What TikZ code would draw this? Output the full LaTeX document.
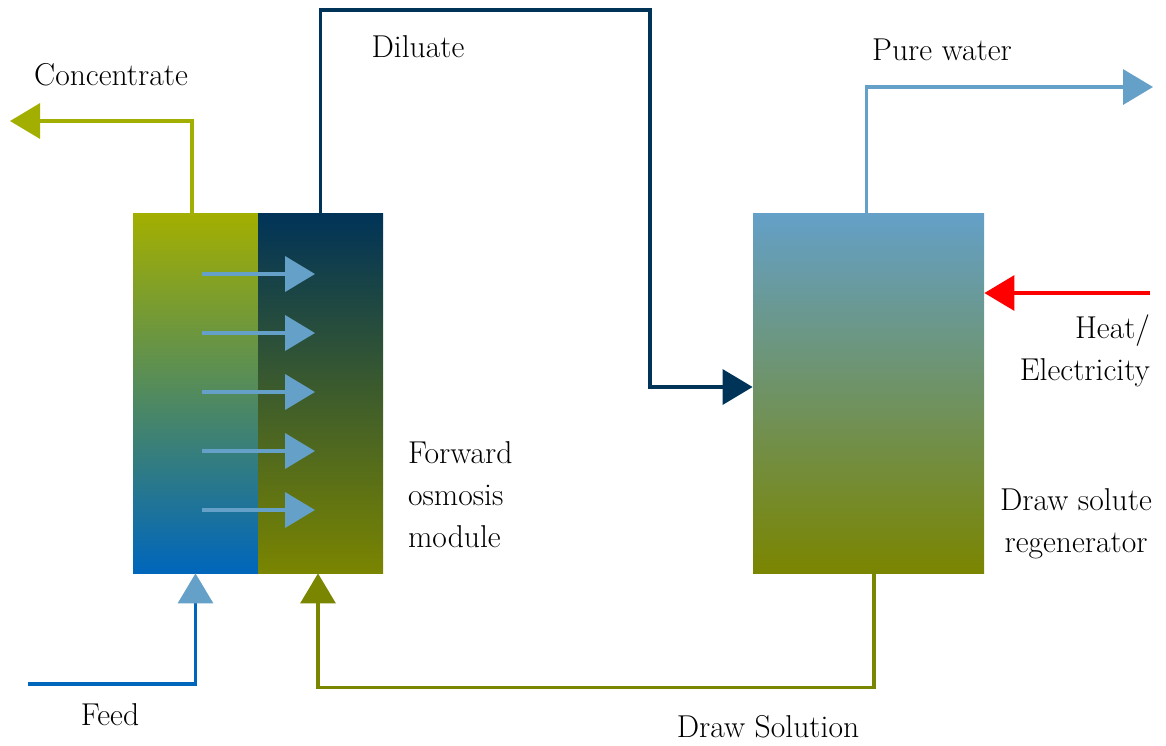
\documentclass[tikz,border=0pt]{standalone}
\usetikzlibrary{arrows.meta}
\definecolor{fogreen}{HTML}{A3AF00}
\definecolor{fonavy}{HTML}{003358}
\definecolor{foblue}{HTML}{0066BB}
\definecolor{folight}{HTML}{64A0C8}
\definecolor{foolive}{HTML}{7A8500}
\tikzset{
    >={Triangle[length=15pt,width=17.5pt]},
    flow/.style={line width=1.7pt,->},
    lbl/.style={font=\fontsize{15.8}{21}\selectfont},
    box/.style={minimum width=62.5pt,minimum height=180pt,inner sep=0pt}
}
\begin{document}
\begin{tikzpicture}[x=0.5pt,y=-0.5pt]
        \useasboundingbox (0,0) rectangle (1166,745);

        % forward osmosis module, feed side and draw side
        \node at (195.5,393) [box,top color=fogreen,bottom color=foblue] (F) {};
        \node at (320.5,393) [box,top color=fonavy,bottom color=foolive] (D) {};
        % regenerator
        \node at (868.5,393) [box,minimum width=115.5pt,top color=folight,bottom color=foolive] (R) {};

        \foreach \y in {274,333,392,451,510}
            \draw [flow,folight,line width=2pt] (202,\y) -- (315,\y);

        \coordinate (C) at (10,121);
        \coordinate (W) at (1153,87);
        \coordinate (H) at (1150,293);
        \coordinate (I) at (28,684);

        \draw [flow,fogreen] ([xshift=-1.75pt]F.north) |- (C);
        \draw [flow,fonavy] (D.north) |- (650,10) |- ([yshift=3pt]R.west);
        \draw [flow,folight] ([xshift=-1pt]R.north) |- (W);
        \draw [flow,red] (H) -- (H -| R.east);
        \draw [flow,foolive] ([xshift=2.75pt]R.south) -- ++(0,114) -| ([xshift=-1.25pt]D.south);
        \draw [line width=1.7pt,foblue,-{Triangle[length=15pt,width=17.5pt,color=folight]}] (I) -| (F.south);

        \node at (111,75) [lbl] (c) {Concentrate};
        \node at (418,47) [lbl] (d) {Diluate};
        \node at (942,50) [lbl] (w) {Pure water};
        \node at (1157,351) [lbl,anchor=east,align=right] (h) {Heat/\\Electricity};
        \node at (401,495) [lbl,anchor=west,align=left] (m) {Forward\\osmosis\\module};
        \node at (1076,524) [lbl,align=center] (r) {Draw solute\\regenerator};
        \node at (110,715) [lbl] (f) {Feed};
        \node at (768,727) [lbl] (s) {Draw Solution};

    \end{tikzpicture}
\end{document}
